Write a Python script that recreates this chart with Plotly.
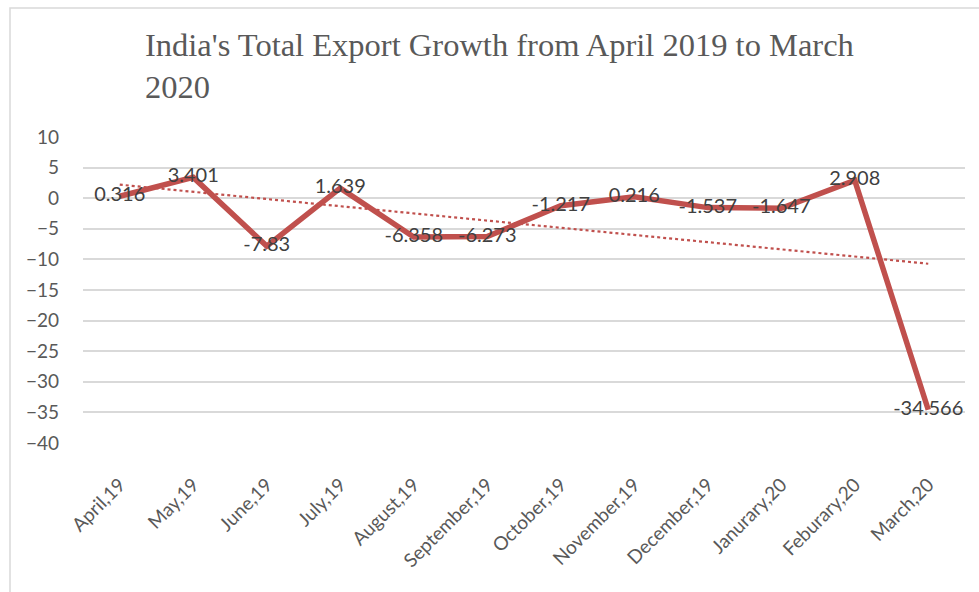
import numpy as np
import plotly.graph_objects as go

months = ["April,19", "May,19", "June,19", "July,19", "August,19", "September,19",
          "October,19", "November,19", "December,19", "Janurary,20", "Feburary,20", "March,20"]
growth = [0.316, 3.401, -7.83, 1.639, -6.358, -6.273, -1.217, 0.216, -1.537, -1.647, 2.908, -34.566]
labels = ["0.316", "3.401", "-7.83", "1.639", "-6.358", "-6.273", "-1.217", "0.216",
          "-1.537", "-1.647", "2.908", "-34.566"]
y_ticks = [10, 5, 0, -5, -10, -15, -20, -25, -30, -35, -40]

idx = np.arange(len(growth))
slope, intercept = np.polyfit(idx, growth, 1)
trend = slope * idx + intercept

red = "#c0504d"
W, H = 979, 592
L, R, T, B = 83, 14, 137, 149
pw, ph = W - L - R, H - T - B
sans = "Lato, Open Sans, sans-serif"

fig = go.Figure()
fig.add_trace(go.Scatter(
    x=list(idx), y=list(trend), mode="lines",
    line=dict(color=red, width=2.2, dash="dot"), hoverinfo="skip", showlegend=False))
fig.add_trace(go.Scatter(
    x=list(idx), y=growth, mode="lines+text", text=labels, textposition="middle center",
    textfont=dict(family=sans, size=20, color="#404040"),
    line=dict(color=red, width=5.5), showlegend=False))

fig.update_layout(
    width=W, height=H,
    margin=dict(l=L, r=R, t=T, b=B),
    paper_bgcolor="white", plot_bgcolor="white",
    title=dict(text="India's Total Export Growth from April 2019 to March<br>2020",
               font=dict(family="Liberation Serif, Times New Roman, serif", size=32.5, color="#595959"),
               x=145 / W, xanchor="left", xref="container",
               y=1 - 56 / H, yanchor="top", yref="container"),
    xaxis=dict(tickmode="array", tickvals=list(idx), ticktext=months, range=[-0.5, 11.5],
               tickangle=-45, showgrid=False, zeroline=False, showline=False, ticks="",
               ticklabelstandoff=26,
               tickfont=dict(family=sans, size=19, color="#595959")),
    yaxis=dict(range=[-40, 10], tickvals=y_ticks, showgrid=True, gridcolor="#d9d9d9", gridwidth=1.5,
               zeroline=True, zerolinecolor="#d9d9d9", zerolinewidth=1.5, showline=False, ticks="",
               ticklabelstandoff=23,
               tickfont=dict(family=sans, size=19, color="#595959")),
    shapes=[dict(type="rect", xref="paper", yref="paper",
                 x0=(10 - L) / pw, x1=(W + 20 - L) / pw,
                 y0=-(B + 20) / ph, y1=1 + (T - 8) / ph,
                 line=dict(color="#d9d9d9", width=1.5), fillcolor="rgba(0,0,0,0)", layer="below")],
)

fig.write_html("out.html", config={"displayModeBar": False},
               post_script="document.body.style.margin='0';")
